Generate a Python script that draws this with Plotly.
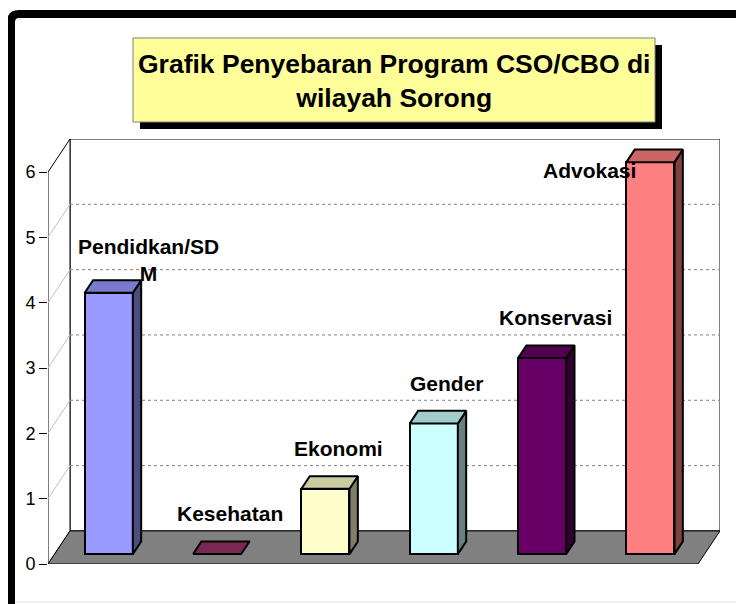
import plotly.graph_objects as go

# ---- data ----
categories = ["Pendidkan/SDM", "Kesehatan", "Ekonomi", "Gender", "Konservasi", "Advokasi"]
values = [4, 0, 1, 2, 3, 6]
tick_values = [0, 1, 2, 3, 4, 5, 6]
title_text = "Grafik Penyebaran Program CSO/CBO di<br>wilayah Sorong"

# ---- styling ----
base_colors = ["#9999FF", "#993366", "#FFFFCC", "#CCFFFF", "#660066", "#FF8080"]
W, H = 744, 604
OFF = 8  # page body margin offset
X0P, X1P, Y0P, Y1P = 48 - OFF, 720 - OFF, 564 - OFF, 139 - OFF   # plot area pixels in figure
N = len(categories)
YMAX = 6
DX = 22 / (650 / N)          # wall depth in category units
DY = 33 / ((564 - 173) / YMAX)  # wall depth in value units
XR = [0, N + DX]
YR = [0, YMAX + DY]
D0, S, HW = 0.30, 0.38, 0.222   # bar depth start, depth span, half width
FONT = "Liberation Sans, Arial"


def shade(hexc, f):
    r, g, b = int(hexc[1:3], 16), int(hexc[3:5], 16), int(hexc[5:7], 16)
    return "#%02X%02X%02X" % (int(r * f), int(g * f), int(b * f))


def px_x(p):  # page pixel -> paper x
    return (p - OFF - X0P) / (X1P - X0P)


def px_y(p):  # page pixel -> paper y
    return (Y0P - (p - OFF)) / (Y0P - Y1P)


fig = go.Figure()
shapes = []

# walls & floor
shapes.append(dict(type="path", layer="below", xref="x", yref="y",
                   path=f"M {DX},{DY} L {N+DX},{DY} L {N+DX},{YMAX+DY} L {DX},{YMAX+DY} Z",
                   fillcolor="white", line=dict(color="black", width=1)))
shapes.append(dict(type="path", layer="below", xref="x", yref="y",
                   path=f"M 0,0 L {DX},{DY} L {DX},{YMAX+DY} L 0,{YMAX} Z",
                   fillcolor="white", line=dict(color="black", width=1)))
for v in tick_values[1:-1]:
    shapes.append(dict(type="line", layer="below", xref="x", yref="y",
                       x0=DX, y0=v + DY, x1=N + DX, y1=v + DY,
                       line=dict(color="#808080", width=1, dash="dot")))
    shapes.append(dict(type="line", layer="below", xref="x", yref="y",
                       x0=0, y0=v, x1=DX, y1=v + DY,
                       line=dict(color="#C0C0C0", width=1)))
shapes.append(dict(type="path", layer="below", xref="x", yref="y",
                   path=f"M 0,0 L {N},0 L {N+DX},{DY} L {DX},{DY} Z",
                   fillcolor="#808080", line=dict(color="black", width=1)))

# front faces of bars
xs = [i + 0.5 + D0 * DX for i in range(N)]
fig.add_trace(go.Bar(x=xs, y=values, base=D0 * DY, width=2 * HW,
                     marker=dict(color=base_colors, line=dict(color="black", width=2)),
                     hoverinfo="skip", showlegend=False))

# top and side faces
for i, v in enumerate(values):
    xl, xr = xs[i] - HW, xs[i] + HW
    yb = D0 * DY
    yt = v + D0 * DY
    ox, oy = S * DX, S * DY
    if v > 0:
        fig.add_trace(go.Scatter(
            x=[xr, xr, xr + ox, xr + ox, xr], y=[yb, yt, yt + oy, yb + oy, yb],
            mode="lines", fill="toself", fillcolor=shade(base_colors[i], 0.5),
            line=dict(color="black", width=2), hoverinfo="skip", showlegend=False))
    fig.add_trace(go.Scatter(
        x=[xl, xr, xr + ox, xl + ox, xl], y=[yt, yt, yt + oy, yt + oy, yt],
        mode="lines", fill="toself", fillcolor=shade(base_colors[i], 0.8),
        line=dict(color="black", width=2), hoverinfo="skip", showlegend=False))

# data labels (category names)
annotations = []
for i, (c, v) in enumerate(zip(categories, values)):
    text = c
    lx, ly = i + 0.5 + 0.18, v + 0.77
    if c.endswith("/SDM"):
        text = c[:-1] + "<br>M"   # wrapped as in the original
        lx, ly = i + 0.5 + 0.43, v + 0.65
    if v + 0.77 > YMAX:
        lx, ly = i + 0.5 - 0.5, YMAX + 0.02
    annotations.append(dict(x=lx, y=ly, xref="x", yref="y", text=f"<b>{text}</b>",
                            showarrow=False, xanchor="center", yanchor="middle",
                            font=dict(family=FONT, size=21, color="black")))

# title box with shadow
shapes.append(dict(type="rect", xref="paper", yref="paper", layer="above",
                   x0=px_x(140), x1=px_x(662), y0=px_y(129), y1=px_y(45),
                   fillcolor="black", line=dict(width=0)))
shapes.append(dict(type="rect", xref="paper", yref="paper", layer="above",
                   x0=px_x(133), x1=px_x(655), y0=px_y(122), y1=px_y(38),
                   fillcolor="#FFFF99", line=dict(color="#808080", width=1)))
annotations.append(dict(x=px_x(394), y=px_y(81), xref="paper", yref="paper",
                        text=f"<b>{title_text}</b>", showarrow=False,
                        xanchor="center", yanchor="middle",
                        font=dict(family=FONT, size=26.5, color="black")))

# outer thick border (left & top, rounded corner) and faint bottom line
shapes.append(dict(type="path", xref="paper", yref="paper", layer="above",
                   path=(f"M {px_x(11)},{px_y(620)} L {px_x(11)},{px_y(22)} "
                         f"Q {px_x(11)},{px_y(14)} {px_x(19)},{px_y(14)} L {px_x(760)},{px_y(14)}"),
                   line=dict(color="black", width=8)))
shapes.append(dict(type="line", xref="paper", yref="paper", layer="above",
                   x0=px_x(15), x1=px_x(760), y0=px_y(602), y1=px_y(602),
                   line=dict(color="#E0E0E0", width=1)))

fig.update_layout(
    width=W, height=H,
    margin=dict(l=X0P, r=W - X1P, t=Y1P, b=H - Y0P, pad=0),
    paper_bgcolor="white", plot_bgcolor="rgba(0,0,0,0)",
    xaxis=dict(range=XR, visible=False, fixedrange=True),
    yaxis=dict(range=YR, tickvals=tick_values, ticks="outside", ticklen=8,
               tickcolor="black", tickwidth=1, showgrid=False, zeroline=False,
               showline=False, tickfont=dict(family=FONT, size=18, color="black"),
               fixedrange=True),
    shapes=shapes, annotations=annotations,
    bargap=0, showlegend=False,
)

fig.write_html("out.html")
